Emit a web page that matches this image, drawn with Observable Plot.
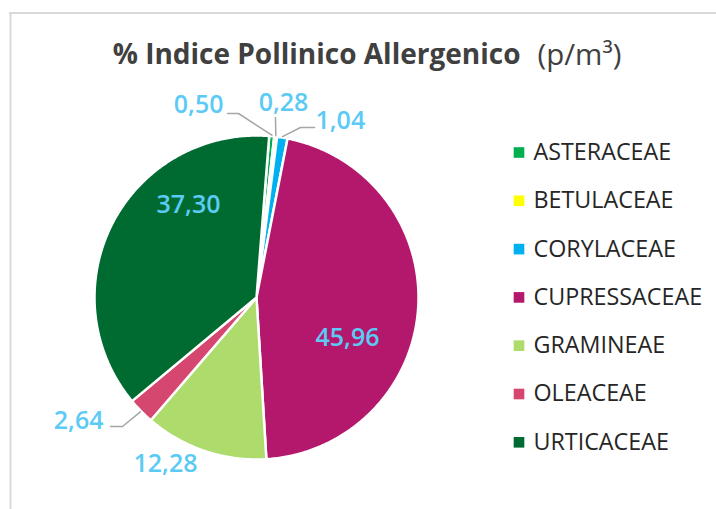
<!DOCTYPE html>
<html><head><meta charset="utf-8">
<script src="https://cdn.jsdelivr.net/npm/d3@7"></script>
<script src="https://cdn.jsdelivr.net/npm/@observablehq/plot@0.6"></script>
<style>body{margin:0;background:#fff}</style>
</head><body><div id="chart"></div>
<script>
// ---- data ----
const families = ["ASTERACEAE","BETULACEAE","CORYLACEAE","CUPRESSACEAE","GRAMINEAE","OLEACEAE","URTICACEAE"];
const values = [0.50, 0.28, 1.04, 45.96, 12.28, 2.64, 37.30];
const valueLabels = ["0,50","0,28","1,04","45,96","12,28","2,64","37,30"];
const colors = ["#00B050","#FFFF00","#00B0F0","#B4186C","#ADDB6C","#D5476F","#006B31"];
const titleMain = "% Indice Pollinico Allergenico";
const titleUnit = "(p/m³)";

// ---- layout ----
const W = 716, H = 509, CX = 256, CY = 297, R = 162, START = 4.5;
const labelLayout = {
  ASTERACEAE:   {x: 223, y: 104, anchor: "end",    leader: [[238,113],[227,113]]},
  BETULACEAE:   {x: 283, y: 102, anchor: "middle", leader: [[275,117]]},
  CORYLACEAE:   {x: 315, y: 120, anchor: "start",  leader: [[300,127],[314,127]]},
  CUPRESSACEAE: {x: 347, y: 337, anchor: "middle"},
  GRAMINEAE:    {x: 165, y: 463, anchor: "middle"},
  OLEACEAE:     {x: 103, y: 420, anchor: "end",    leader: [[122,426],[110,426]]},
  URTICACEAE:   {x: 188, y: 204, anchor: "middle"}
};
const legendX = 518.5, legendTextX = 533, legendY0 = 152, legendStep = 48.3;

// ---- derived geometry ----
const total = d3.sum(values);
let acc = 0;
const slices = families.map((f, i) => {
  const a0 = START + acc / total * 360; acc += values[i];
  const a1 = START + acc / total * 360;
  return {name: f, value: values[i], label: valueLabels[i], a0, a1};
});
const pt = (a, r = R) => ({x: CX + r * Math.sin(a * Math.PI / 180), y: CY - r * Math.cos(a * Math.PI / 180)});
const piePts = slices.flatMap(s => {
  const n = Math.max(2, Math.ceil((s.a1 - s.a0) / 0.5));
  const arr = [{name: s.name, x: CX, y: CY}];
  for (let k = 0; k <= n; k++) arr.push({name: s.name, ...pt(s.a0 + (s.a1 - s.a0) * k / n)});
  arr.push({name: s.name, x: CX, y: CY});
  return arr;
});
const leaderPts = slices.filter(s => labelLayout[s.name].leader).flatMap(s => {
  const edge = pt((s.a0 + s.a1) / 2, R + 1);
  return [{name: s.name, ...edge}, ...labelLayout[s.name].leader.map(([x, y]) => ({name: s.name, x, y}))];
});
const labelData = slices.map(s => ({...s, ...labelLayout[s.name]}));
const legendData = families.map((f, i) => ({name: f, y: legendY0 + i * legendStep}));

const lblColor = "#5BCBF5";
const chart = Plot.plot({
  width: W, height: H, margin: 0,
  x: {domain: [0, W], range: [0, W], axis: null},
  y: {domain: [0, H], range: [0, H], axis: null},
  color: {domain: families, range: colors},
  style: {fontFamily: "'Open Sans', sans-serif", background: "white"},
  marks: [
    Plot.ruleY([12.5], {x1: 9, x2: W, stroke: "#D9D9D9", strokeWidth: 2}),
    Plot.ruleX([10], {y1: 12, y2: H, stroke: "#D9D9D9", strokeWidth: 2}),
    Plot.text([titleMain], {x: 520, y: 55, text: d => d, textAnchor: "end", fontSize: 28, fontWeight: "bold", fill: "#404040"}),
    Plot.text([titleUnit], {x: 537, y: 55, text: d => d, textAnchor: "start", fontSize: 29.5, fill: "#404040"}),
    Plot.line(piePts, {x: "x", y: "y", z: "name", fill: "name", stroke: "white", strokeWidth: 2.5, strokeLinejoin: "round"}),
    Plot.line(leaderPts, {x: "x", y: "y", z: "name", stroke: "#A6A6A6", strokeWidth: 1.5}),
    Plot.text(labelData.filter(d => d.anchor === "start"), {x: "x", y: "y", text: "label", textAnchor: "start", fontSize: 25, fontWeight: 600, fill: lblColor}),
    Plot.text(labelData.filter(d => d.anchor === "middle"), {x: "x", y: "y", text: "label", textAnchor: "middle", fontSize: 25, fontWeight: 600, fill: lblColor}),
    Plot.text(labelData.filter(d => d.anchor === "end"), {x: "x", y: "y", text: "label", textAnchor: "end", fontSize: 25, fontWeight: 600, fill: lblColor}),
    Plot.dot(legendData, {x: legendX, y: "y", symbol: "square", r: 6, fill: "name"}),
    Plot.text(legendData, {x: legendTextX, y: "y", text: "name", textAnchor: "start", fontSize: 23.3, fill: "#262626"})
  ]
});
document.getElementById("chart").appendChild(chart);
</script>
</body></html>
